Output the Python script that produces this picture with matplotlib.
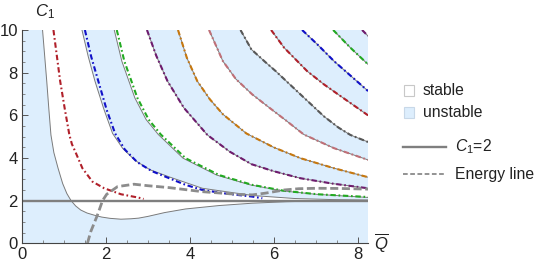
import matplotlib
matplotlib.use("Agg")
import matplotlib.pyplot as plt
from matplotlib.patches import Polygon, Rectangle
from matplotlib.lines import Line2D

plt.rcParams['font.family'] = ['Liberation Sans', 'DejaVu Sans']
plt.rcParams['mathtext.fontset'] = 'custom'
plt.rcParams['mathtext.rm'] = 'Liberation Sans'
plt.rcParams['mathtext.it'] = 'Liberation Sans:italic'

# ---------------- data ----------------
XMAX = 8.25
YMAX = 10.0

# thin boundary curves
b1_x = [0.49, 0.54, 0.59, 0.64, 0.69, 0.76, 0.86, 0.97, 1.07, 1.17, 1.28, 1.40, 1.55, 1.72, 1.90, 2.10,
        2.36, 2.60, 2.78, 3.0, 3.4, 3.9, 4.7, 5.49, 6.3, 7.2, 8.25]
b1_y = [10.0, 8.8, 7.6, 6.3, 5.08, 4.25, 3.52, 2.8, 2.33, 2.0, 1.75, 1.56, 1.42, 1.32, 1.23, 1.17,
        1.13, 1.15, 1.18, 1.26, 1.44, 1.61, 1.77, 1.88, 1.95, 1.99, 2.0]
b2_x = [1.43, 1.58, 1.74, 1.95, 2.16, 2.40, 2.70, 3.05, 3.5, 4.3, 5.5, 6.5, 7.4, 8.25]
b2_y = [10.0, 8.75, 7.6, 6.3, 5.15, 4.45, 3.88, 3.45, 3.12, 2.58, 2.24, 2.1, 2.05, 2.03]
b3_x = [2.20, 2.38, 2.69, 2.96, 3.25, 3.84, 4.64, 5.44, 6.2, 7.0, 8.25]
b3_y = [10.0, 8.54, 6.82, 5.8, 5.1, 3.99, 3.2, 2.74, 2.46, 2.30, 2.15]

# dash-dot curves
red1_x = [0.75, 0.83, 0.91, 1.02, 1.13, 1.19, 1.27, 1.44, 1.68, 1.96, 2.36, 2.78, 2.9]
red1_y = [10.0, 8.8, 7.6, 6.3, 5.08, 4.65, 4.3, 3.52, 2.89, 2.58, 2.30, 2.14, 2.08]
blue1_x = [1.5, 1.65, 1.82, 2.02, 2.22, 2.45, 2.75, 3.1, 3.51, 3.9, 4.3, 4.9, 5.49, 5.73]
blue1_y = [10.0, 8.75, 7.6, 6.25, 5.15, 4.4, 3.8, 3.38, 3.05, 2.74, 2.5, 2.32, 2.19, 2.11]
green1_x = [2.26, 2.44, 2.75, 3.02, 3.31, 3.9, 4.7, 5.49, 6.25, 7.04, 8.25]
green1_y = [10.0, 8.54, 6.82, 5.8, 5.1, 3.99, 3.2, 2.74, 2.46, 2.30, 2.17]
purple1_x = [2.98, 3.2, 3.47, 3.86, 4.42, 4.95, 5.47, 6.0, 6.64, 7.4, 8.25]
purple1_y = [10.0, 8.8, 7.6, 6.35, 5.08, 4.3, 3.71, 3.38, 3.05, 2.8, 2.58]
orange_x = [3.72, 3.93, 4.18, 4.48, 4.79, 5.35, 6.0, 6.64, 7.44, 8.25]
orange_y = [10.0, 8.7, 7.6, 6.75, 6.05, 5.15, 4.5, 3.99, 3.52, 3.10]
pink_x = [4.46, 4.79, 5.1, 5.49, 5.85, 6.3, 6.72, 7.44, 8.25]
pink_y = [10.0, 8.54, 7.7, 6.98, 6.43, 5.75, 5.1, 4.46, 3.91]
gray_x = [5.21, 5.47, 5.8, 6.05, 6.64, 7.2, 7.55, 7.83, 8.25]
gray_y = [10.0, 9.09, 8.5, 8.07, 6.98, 5.95, 5.42, 5.08, 4.75]
red2_x = [5.94, 6.25, 6.8, 7.2, 7.56, 8.25]
red2_y = [10.0, 9.17, 8.07, 7.45, 6.95, 6.0]
blue2_x = [6.68, 7.04, 7.44, 8.25]
blue2_y = [10.0, 9.33, 8.54, 7.14]
green2_x = [7.42, 7.83, 8.25]
green2_y = [10.0, 9.17, 8.39]
purple2_x = [8.11, 8.25]
purple2_y = [10.0, 9.72]

energy_x = [1.56, 1.64, 1.80, 1.92, 2.02, 2.28, 2.67, 3.0, 3.51, 4.30, 5.10, 5.49, 5.8, 6.25, 6.6, 7.04, 7.6, 8.25]
energy_y = [0.0, 0.55, 1.33, 2.0, 2.3, 2.66, 2.77, 2.70, 2.61, 2.42, 2.30, 2.27, 2.35, 2.50, 2.56, 2.58, 2.57, 2.54]

C1_level = 2.0

x_ticks = [0, 2, 4, 6, 8]
y_ticks = [0, 2, 4, 6, 8, 10]
legend_labels = ["stable", "unstable", "$C_1$=2", "Energy line"]

# ---------------- styling ----------------
LIGHT_BLUE = '#DDEEFD'
C_RED = '#B0202A'
C_BLUE = '#1010C8'
C_GREEN = '#22AA22'
C_PURPLE = '#6E1C6E'
C_ORANGE = '#C7780F'
C_PINK = '#C07078'
C_GRAY = '#585858'
BOUND = '#7a7a7a'

fig = plt.figure(figsize=(5.45, 2.69), dpi=100)
W, H = 545.0, 269.0
ax = fig.add_axes([22 / W, (H - 243.3) / H, 346 / W, 213.3 / H])
ax.set_xlim(0, XMAX)
ax.set_ylim(0, YMAX)
ax.set_facecolor(LIGHT_BLUE)

curves = {
    'b1': (b1_x, b1_y), 'b2': (b2_x, b2_y), 'b3': (b3_x, b3_y),
    'purple1': (purple1_x, purple1_y), 'orange': (orange_x, orange_y),
    'pink': (pink_x, pink_y), 'gray': (gray_x, gray_y), 'red2': (red2_x, red2_y),
    'blue2': (blue2_x, blue2_y), 'green2': (green2_x, green2_y),
    'purple2': (purple2_x, purple2_y),
}

def band(a, b):
    ax_, ay_ = curves[a]
    bx_, by_ = curves[b]
    return list(zip(ax_, ay_)) + list(zip(bx_[::-1], by_[::-1]))

white_pairs = [('b1', 'b2'), ('b3', 'purple1'), ('orange', 'pink'), ('gray', 'red2'), ('blue2', 'green2')]
for a, b in white_pairs:
    ax.add_patch(Polygon(band(a, b), closed=True, facecolor='white', edgecolor='none', zorder=0.5))
last = list(zip(purple2_x, purple2_y)) + [(XMAX, YMAX)]
ax.add_patch(Polygon(last, closed=True, facecolor='white', edgecolor='none', zorder=0.5))

# thin boundary lines
for key in ['b1', 'b2', 'b3', 'purple1', 'orange', 'pink', 'gray', 'red2', 'blue2', 'green2', 'purple2']:
    cx, cy = curves[key]
    ax.plot(cx, cy, color=BOUND, lw=0.7, zorder=1)

# C1 = 2 line
ax.axhline(C1_level, color='#7f7f7f', lw=1.7, zorder=2)

dd = (0, (2.6, 1.3, 0.8, 1.3))
for (cx, cy), col in [((red1_x, red1_y), C_RED), ((blue1_x, blue1_y), C_BLUE),
                      ((green1_x, green1_y), C_GREEN), ((purple1_x, purple1_y), C_PURPLE),
                      ((orange_x, orange_y), C_ORANGE), ((pink_x, pink_y), C_PINK),
                      ((gray_x, gray_y), C_GRAY), ((red2_x, red2_y), C_RED),
                      ((blue2_x, blue2_y), C_BLUE), ((green2_x, green2_y), C_GREEN),
                      ((purple2_x, purple2_y), C_PURPLE)]:
    ax.plot(cx, cy, color=col, lw=1.5, linestyle=dd, zorder=3)

ax.plot(energy_x, energy_y, color='#8c8c8c', lw=2.0, linestyle=(0, (2.9, 1.3)), zorder=4)

# axes styling
for s in ['top', 'right']:
    ax.spines[s].set_visible(False)
for s in ['left', 'bottom']:
    ax.spines[s].set_color('#444444')
    ax.spines[s].set_linewidth(0.8)
ax.set_xticks(x_ticks)
ax.set_yticks(y_ticks)
ax.set_xticks([v / 2 for v in range(0, 17)], minor=True)
ax.set_yticks([v / 2 for v in range(0, 21)], minor=True)
ax.tick_params(which='major', direction='in', length=4, width=0.7, color='#555555',
               labelsize=12, labelcolor='#222222', pad=3)
ax.tick_params(which='minor', direction='in', length=2.2, width=0.6, color='#777777')

fig.text(45 / W, 1 - 12 / H, '$C_1$', fontsize=12, ha='center', va='center', color='#222222')
fig.text(381 / W, 1 - 243 / H, r'$\overline{Q}$', fontsize=12, ha='center', va='center', color='#222222')

# legend drawn in pixel space
lg = fig.add_axes([0, 0, 1, 1], facecolor='none')
lg.set_xlim(0, W)
lg.set_ylim(H, 0)
lg.axis('off')
lg.add_patch(Rectangle((403.5, 85), 10.5, 10.5, facecolor='white', edgecolor='#c8c8c8', lw=0.8))
lg.add_patch(Rectangle((403.5, 107), 10.5, 10.5, facecolor=LIGHT_BLUE, edgecolor='#c8d8e8', lw=0.8))
lg.add_line(Line2D([403, 446], [147, 147], color='#7f7f7f', lw=1.7))
lg.add_line(Line2D([403, 446], [174, 174], color='#8a8a8a', lw=1.3, linestyle=(0, (2.6, 1.4))))
lg.text(423, 90.5, legend_labels[0], fontsize=11.3, va='center', ha='left', color='#222222')
lg.text(423, 112.5, legend_labels[1], fontsize=11.3, va='center', ha='left', color='#222222')
lg.text(455, 147, legend_labels[2], fontsize=11.3, va='center', ha='left', color='#222222')
lg.text(455, 174, legend_labels[3], fontsize=11.3, va='center', ha='left', color='#222222')

fig.savefig('out.png', dpi=100)
